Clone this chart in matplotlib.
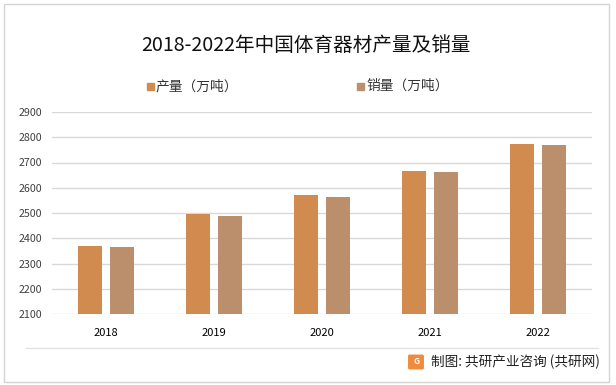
import matplotlib.pyplot as plt
import numpy as np
from matplotlib.patches import Rectangle, FancyBboxPatch
from matplotlib.lines import Line2D

plt.rcParams['font.family'] = ['Noto Sans CJK SC', 'DejaVu Sans']

# data
years = ['2018', '2019', '2020', '2021', '2022']
production = [2371, 2498, 2572, 2667, 2775]
sales = [2366, 2490, 2565, 2663, 2771]
yticks = [2100, 2200, 2300, 2400, 2500, 2600, 2700, 2800, 2900]

c_prod = '#D18B4E'
c_sales = '#BB8E6C'

fig = plt.figure(figsize=(6.16, 3.85), dpi=100)
ax = fig.add_axes([52/616, 1-314/385, (592-52)/616, (314-112)/385])

x = np.arange(len(years))
w = 0.225
off = 0.145
ax.bar(x - off, production, w, color=c_prod, label='产量（万吨）', zorder=3)
ax.bar(x + off, sales, w, color=c_sales, label='销量（万吨）', zorder=3)

ax.set_ylim(2100, 2900)
ax.set_xlim(-0.5, len(years) - 0.5)
ax.set_yticks(yticks)
ax.set_xticks(x)
ax.set_xticklabels(years)
ax.tick_params(axis='y', length=0, labelsize=7.7, colors='#404040', pad=7)
ax.tick_params(axis='x', length=0, labelsize=8, colors='#000000', pad=10)
ax.yaxis.grid(True, color='#D9D9D9', linewidth=1)
ax.set_axisbelow(True)
for s in ax.spines.values():
    s.set_visible(False)

# title
fig.text(306/616, 1-45/385, '2018-2022年中国体育器材产量及销量', ha='center', va='center',
         fontsize=14.1, color='#111111')

# legend, placed by hand
fig.patches.append(Rectangle((147/616, 1-90/385), 7/616, 7/385, transform=fig.transFigure,
                             color=c_prod, figure=fig))
fig.text(156/616, 1-86/385, '产量（万吨）', ha='left', va='center', fontsize=9.9, color='#333333')
fig.patches.append(Rectangle((357/616, 1-90/385), 7/616, 7/385, transform=fig.transFigure,
                             color=c_sales, figure=fig))
fig.text(366/616, 1-86/385, '销量（万吨）', ha='left', va='center', fontsize=9.9, color='#333333')

# separator and frame
fig.lines.append(Line2D([26/616, 598/616], [1-348/385, 1-348/385], transform=fig.transFigure,
                        color='#E3E3E3', linewidth=1))
fig.patches.append(Rectangle((4/616, 1-382/385), 605/616, 378/385, transform=fig.transFigure,
                             fill=False, edgecolor='#D4D4D4', linewidth=1, figure=fig))

# source
fig.patches.append(FancyBboxPatch((410/616, 1-368/385), 12/616, 12/385, transform=fig.transFigure,
                                  boxstyle='round,pad=0.002', color='#F08A3C', figure=fig))
fig.text(416/616, 1-362/385, 'G', ha='center', va='center', fontsize=6, color='white',
         fontweight='bold')
fig.text(431/616, 1-362/385, '制图: 共研产业咨询 (共研网)', ha='left', va='center',
         fontsize=9.8, color='#222222')

fig.savefig('out.png', dpi=100)
